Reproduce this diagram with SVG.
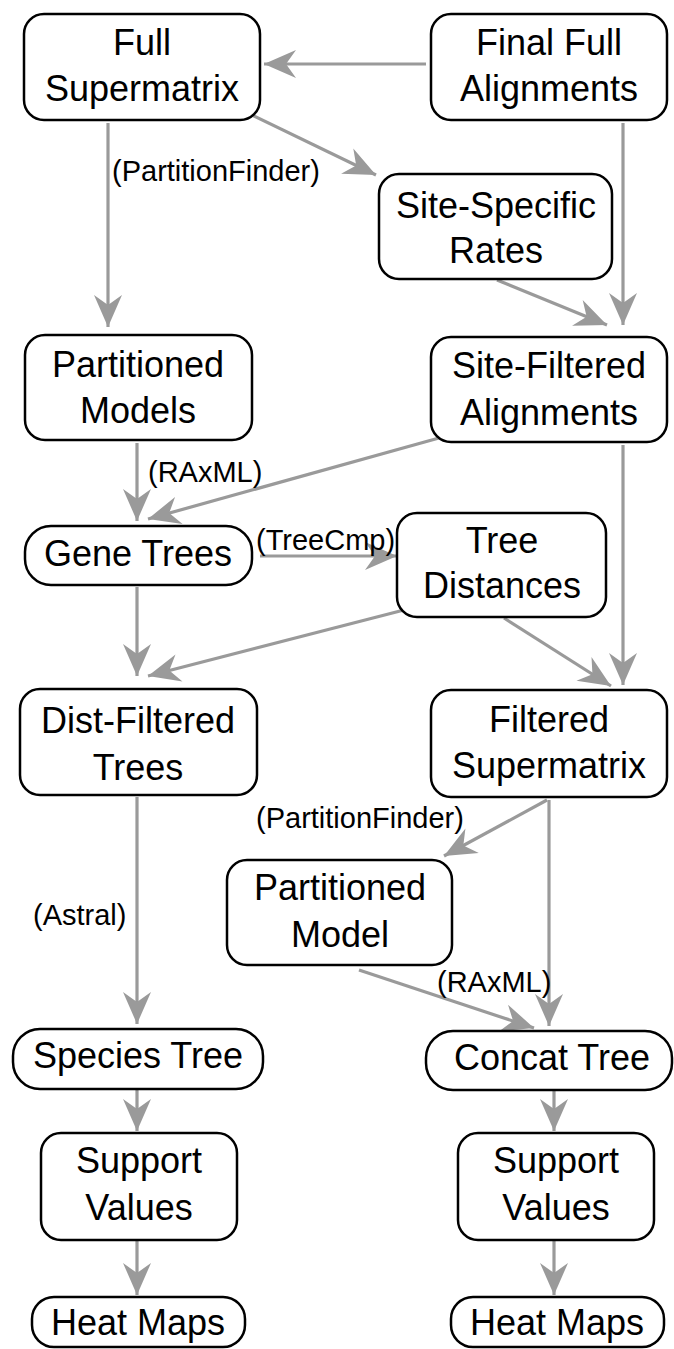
<svg xmlns="http://www.w3.org/2000/svg" width="674" height="1349" viewBox="0 0 674 1349">
<style>
.box{fill:#fff;stroke:#000;stroke-width:2.5}
.nt{font-family:"Liberation Sans",Arial,sans-serif;font-size:36px;fill:#000;text-anchor:middle}
.lb{font-family:"Liberation Sans",Arial,sans-serif;font-size:29px;fill:#000}
.c{stroke:#9a9a9a;stroke-width:3.2;fill:none;marker-end:url(#ah)}
</style>
<defs>
<marker id="ah" markerUnits="userSpaceOnUse" viewBox="-34 -16 36 32" refX="0" refY="0" markerWidth="36" markerHeight="32" orient="auto">
<path d="M0,0 L-32,-14 L-22,0 L-32,14 Z" fill="#9a9a9a"/>
</marker>
</defs>
<rect width="674" height="1349" fill="#fff"/>
<g id="connectors">
<line class="c" x1="426" y1="64" x2="264" y2="64"/>
<line class="c" x1="108" y1="123" x2="108" y2="327"/>
<line class="c" x1="248" y1="113" x2="376" y2="175"/>
<line class="c" x1="623" y1="123" x2="623" y2="325"/>
<line class="c" x1="497" y1="280" x2="607" y2="325"/>
<line class="c" x1="137" y1="443" x2="137" y2="521"/>
<line class="c" x1="439" y1="438" x2="148" y2="519"/>
<line class="c" x1="260" y1="556" x2="397" y2="556"/>
<line class="c" x1="137" y1="587" x2="137" y2="676"/>
<line class="c" x1="404" y1="610" x2="148" y2="676"/>
<line class="c" x1="504" y1="618" x2="611" y2="686"/>
<line class="c" x1="623" y1="445" x2="623" y2="685"/>
<line class="c" x1="547" y1="800" x2="444" y2="856"/>
<line class="c" x1="549" y1="800" x2="549" y2="1026"/>
<line class="c" x1="359" y1="970" x2="534" y2="1028"/>
<line class="c" x1="137" y1="797" x2="137" y2="1024"/>
<line class="c" x1="137" y1="1089" x2="137" y2="1131"/>
<line class="c" x1="137" y1="1240" x2="137" y2="1295"/>
<line class="c" x1="554" y1="1090" x2="554" y2="1131"/>
<line class="c" x1="554" y1="1240" x2="554" y2="1295"/>
</g>
<g id="labels">
<text class="lb" x="112" y="181">(PartitionFinder)</text>
<text class="lb" x="148" y="482">(RAxML)</text>
<text class="lb" x="256" y="550">(TreeCmp)</text>
<text class="lb" x="33" y="925">(Astral)</text>
<text class="lb" x="256" y="828">(PartitionFinder)</text>
<text class="lb" x="437" y="992">(RAxML)</text>
</g>
<g id="full-supermatrix">
<rect class="box" x="24" y="14" width="236" height="106" rx="20"/>
<text class="nt" x="142" y="55">Full</text>
<text class="nt" x="142" y="101">Supermatrix</text>
</g>
<g id="final-full-alignments">
<rect class="box" x="431" y="14" width="236" height="106" rx="20"/>
<text class="nt" x="549" y="55">Final Full</text>
<text class="nt" x="549" y="101">Alignments</text>
</g>
<g id="site-specific-rates">
<rect class="box" x="379" y="174" width="233" height="105" rx="20"/>
<text class="nt" x="496" y="218">Site-Specific</text>
<text class="nt" x="496" y="263">Rates</text>
</g>
<g id="partitioned-models">
<rect class="box" x="25" y="335" width="227" height="105" rx="20"/>
<text class="nt" x="138" y="377">Partitioned</text>
<text class="nt" x="138" y="423">Models</text>
</g>
<g id="site-filtered-alignments">
<rect class="box" x="431" y="337" width="236" height="105" rx="20"/>
<text class="nt" x="549" y="378">Site-Filtered</text>
<text class="nt" x="549" y="425">Alignments</text>
</g>
<g id="gene-trees">
<rect class="box" x="25" y="526" width="227" height="59" rx="26"/>
<text class="nt" x="138" y="566">Gene Trees</text>
</g>
<g id="tree-distances">
<rect class="box" x="397" y="513" width="209" height="104" rx="20"/>
<text class="nt" x="502" y="553">Tree</text>
<text class="nt" x="502" y="598">Distances</text>
</g>
<g id="dist-filtered-trees">
<rect class="box" x="20" y="689" width="237" height="106" rx="20"/>
<text class="nt" x="138" y="733">Dist-Filtered</text>
<text class="nt" x="138" y="780">Trees</text>
</g>
<g id="filtered-supermatrix">
<rect class="box" x="431" y="690" width="236" height="107" rx="20"/>
<text class="nt" x="549" y="732">Filtered</text>
<text class="nt" x="549" y="778">Supermatrix</text>
</g>
<g id="partitioned-model">
<rect class="box" x="227" y="860" width="225" height="105" rx="20"/>
<text class="nt" x="340" y="900">Partitioned</text>
<text class="nt" x="340" y="947">Model</text>
</g>
<g id="species-tree">
<rect class="box" x="13" y="1029" width="250" height="60" rx="27"/>
<text class="nt" x="138" y="1068">Species Tree</text>
</g>
<g id="concat-tree">
<rect class="box" x="426" y="1031" width="246" height="59" rx="27"/>
<text class="nt" x="552" y="1070">Concat Tree</text>
</g>
<g id="support-values-left">
<rect class="box" x="41" y="1133" width="196" height="107" rx="20"/>
<text class="nt" x="139" y="1173">Support</text>
<text class="nt" x="139" y="1220">Values</text>
</g>
<g id="support-values-right">
<rect class="box" x="458" y="1133" width="196" height="107" rx="20"/>
<text class="nt" x="556" y="1173">Support</text>
<text class="nt" x="556" y="1220">Values</text>
</g>
<g id="heat-maps-left">
<rect class="box" x="32" y="1297" width="213" height="50" rx="22"/>
<text class="nt" x="138" y="1335">Heat Maps</text>
</g>
<g id="heat-maps-right">
<rect class="box" x="451" y="1297" width="213" height="50" rx="22"/>
<text class="nt" x="557" y="1335">Heat Maps</text>
</g>
</svg>
